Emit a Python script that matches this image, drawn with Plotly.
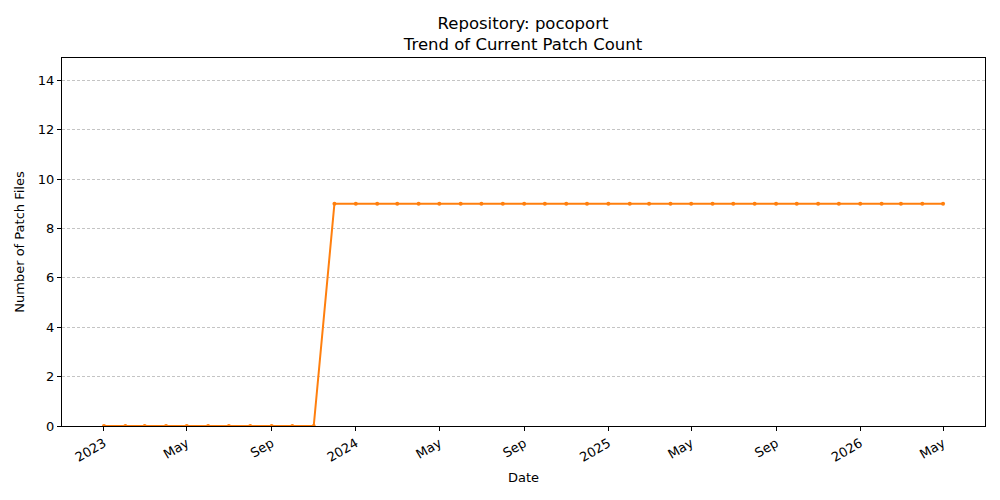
import plotly.graph_objects as go
import pandas as pd

# monthly snapshots
dates = pd.date_range("2023-01-01", "2026-05-01", freq="MS")
patch_counts = [0] * 11 + [9] * 30

tick_dates = ["2023-01-01", "2023-05-01", "2023-09-01",
              "2024-01-01", "2024-05-01", "2024-09-01",
              "2025-01-01", "2025-05-01", "2025-09-01",
              "2026-01-01", "2026-05-01"]
tick_labels = ["2023", "May", "Sep", "2024", "May", "Sep",
               "2025", "May", "Sep", "2026", "May"]
y_ticks = [0, 2, 4, 6, 8, 10, 12, 14]

# matplotlib-like 5% x padding
span = dates[-1] - dates[0]
x_range = [dates[0] - span * 0.05, dates[-1] + span * 0.05]

fig = go.Figure()
fig.add_trace(go.Scatter(
    x=dates, y=patch_counts, mode="lines+markers",
    line=dict(color="#ff7f0e", width=2),
    marker=dict(color="#ff7f0e", size=4),
    showlegend=False,
))

axis_common = dict(
    showline=True, linecolor="black", linewidth=1, mirror=True,
    ticks="outside", ticklen=4, tickcolor="black",
    tickfont=dict(size=13, color="black"),
    zeroline=False,
)

# page body adds an 8px offset, margins account for it
fig.update_layout(
    width=1000, height=500,
    margin=dict(l=54, r=23, t=50, b=82),
    paper_bgcolor="white", plot_bgcolor="white",
    font=dict(family="DejaVu Sans", color="black"),
    title=dict(
        text="Repository: pocoport<br>Trend of Current Patch Count",
        x=0.515, xanchor="center", y=0.958, yanchor="middle",
        font=dict(size=16.5),
    ),
    xaxis=dict(
        axis_common, range=x_range, showgrid=False,
        tickvals=tick_dates, ticktext=tick_labels, tickangle=-30,
        title=dict(text="Date", font=dict(size=13), standoff=9),
    ),
    yaxis=dict(
        axis_common, range=[0, 14.9], tickvals=y_ticks,
        showgrid=True, gridcolor="#c4c4c4", gridwidth=0.6, griddash="3px,2px",
        title=dict(text="Number of Patch Files", font=dict(size=13), standoff=10),
    ),
)

fig.write_html("out.html")
